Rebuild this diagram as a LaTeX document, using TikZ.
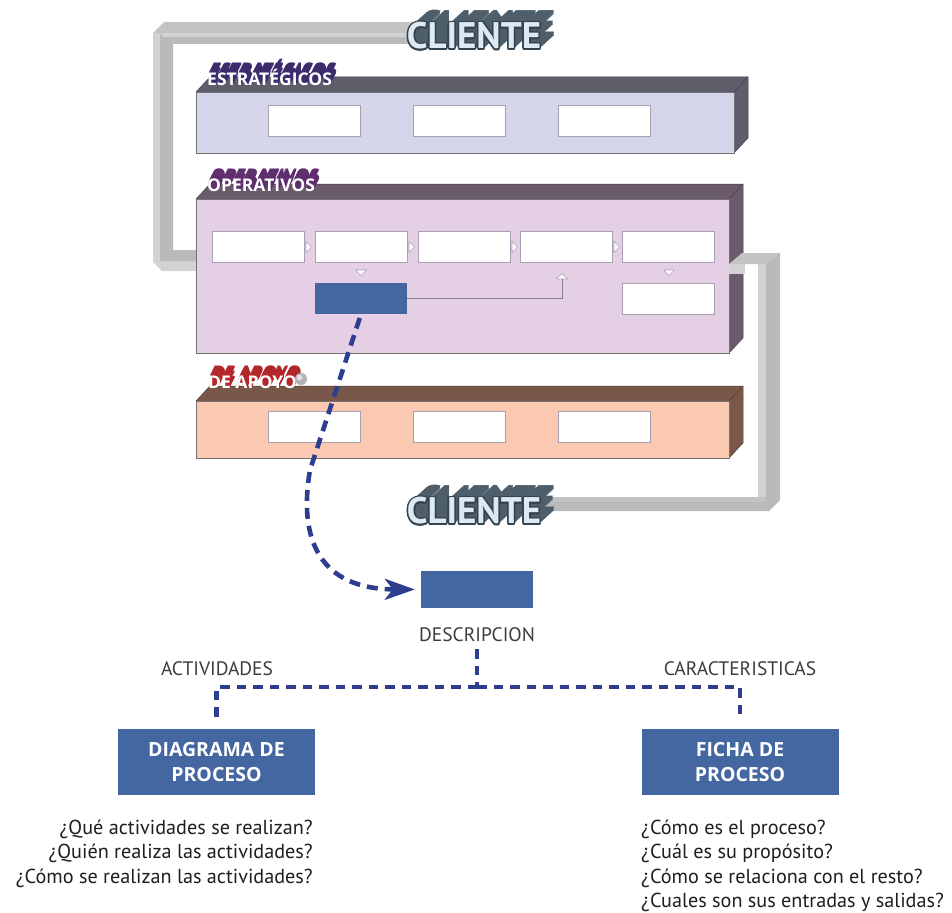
\documentclass[tikz,border=0pt]{standalone}
\usepackage{fontspec}
\setmainfont{PT Sans}
\newfontfamily\widesans{Open Sans}
\usetikzlibrary{arrows.meta,calc}

\definecolor{estfront}{HTML}{D5D6EA}
\definecolor{estdark}{HTML}{5D5E6A}
\definecolor{opfront}{HTML}{E5CFE4}
\definecolor{opdark}{HTML}{6A5A6B}
\definecolor{apfront}{HTML}{FBC9B2}
\definecolor{apdark}{HTML}{7A5849}
\definecolor{procblue}{HTML}{4467A2}
\definecolor{dashblue}{HTML}{2D3E8E}
\definecolor{clshadow}{HTML}{4E5F6B}
\definecolor{cloutline}{HTML}{34434E}
\definecolor{clfront}{HTML}{DCEBF3}
\definecolor{estshadow}{HTML}{3B2C6E}
\definecolor{opshadow}{HTML}{5E2E6E}
\definecolor{apshadow}{HTML}{B3272B}
\definecolor{pipetop}{HTML}{C3C3C3}
\definecolor{pipelight}{HTML}{D2D2D2}
\definecolor{pipebody}{HTML}{BABABA}
\definecolor{boxedge}{HTML}{A89FB2}
\definecolor{qtext}{HTML}{1E1E1E}
\definecolor{captext}{HTML}{3C3C3C}

% one 3-D slab: left, top, right, bottom, front colour, side colour
\newcommand\slab[6]{%
  \fill[#6] (#1,#2) -- (#1+14,#2-15) -- (#3+14,#2-15) -- (#3+14,#4-15) -- (#3,#4) -- (#3,#2) -- cycle;
  \draw[#6!70!black, line width=0.5pt] (#1,#2) -- (#1+14,#2-15) -- (#3+14,#2-15) -- (#3+14,#4-15) -- (#3,#4);
  \draw[#6!70!black, line width=0.5pt] (#3,#2) -- (#3+14,#2-15);
  \fill[#5] (#1,#2) rectangle (#3,#4);
  \draw[black!55, line width=0.7pt] (#1,#2) rectangle (#3,#4);
}

\tikzset{
  wbox/.style={draw=boxedge, fill=white, line width=0.7pt, minimum width=92pt, minimum height=31pt, inner sep=0pt},
  bbox/.style={fill=procblue, draw=none, minimum width=92pt, minimum height=31pt, inner sep=0pt},
  bigbox/.style={fill=procblue, draw=none, minimum width=197pt, minimum height=66pt, inner sep=0pt,
    text=white, align=center, font=\widesans\fontsize{19.5}{25.5}\selectfont\bfseries},
  tri/.style={draw=boxedge, fill=white, line width=0.6pt, line join=round},
  flowline/.style={draw=boxedge!80!black, line width=0.8pt},
  dasharrow/.style={draw=dashblue, line width=4.6pt, dash pattern=on 11pt off 7pt,
    -{Stealth[length=30pt, width=21pt, inset=8pt]}},
  dashtree/.style={draw=dashblue, line width=4.6pt, dash pattern=on 9.5pt off 7pt},
  clfont/.style={font=\fontsize{37}{37}\selectfont\bfseries, inner sep=0pt},
  lblfont/.style={font=\widesans\fontsize{17.5}{17.5}\selectfont\bfseries, inner sep=0pt, anchor=west},
  qfont/.style={font=\fontsize{20.2}{24}\selectfont, text=qtext, inner sep=0pt},
  capfont/.style={font=\fontsize{19.5}{19.5}\selectfont, text=captext, inner sep=0pt},
}

\begin{document}
\begin{tikzpicture}[x=1pt,y=-1pt]
\useasboundingbox (0,0) rectangle (952,912);
\fill[white] (0,0) rectangle (952,912);

% ---- gray pipe from the upper client down into the operative slab
\fill[pipetop] (425,22) -- (164,22) -- (153,33) -- (425,33) -- cycle;
\fill[pipelight] (153,33) -- (160,33) -- (160,261) -- (200,261) -- (200,271) -- (162,271) -- (153,262) -- cycle;
\fill[pipebody] (425,33) -- (160,33) -- (160,261) -- (200,261) -- (200,250) -- (173,250) -- (173,44) -- (425,44) -- cycle;
\fill[pipelight] (160,33) -- (425,33) -- (425,37) -- (164,37) -- cycle;

% ---- slabs
\slab{196}{92}{734}{153}{estfront}{estdark}
\slab{196}{199}{729}{353}{opfront}{opdark}
\slab{196}{401}{729}{458}{apfront}{apdark}

% ---- gray pipe leaving the operative slab towards the lower client
\fill[pipebody] (765,264) -- (780,253) -- (780,500) -- (769,511) -- (545,511) -- (545,497) -- (765,497) -- cycle;
\fill[pipelight] (758,264) rectangle (766,497);
\fill[pipetop] (729,264) -- (742,253) -- (780,253) -- (766,264) -- cycle;
\fill[pipelight] (729,264) rectangle (745,274);
\fill[pipetop] (545,497) rectangle (766,502);

% ---- strategic processes
\node[wbox] (e1) at (314,120.5) {};
\node[wbox] (e2) at (459,120.5) {};
\node[wbox] (e3) at (604,120.5) {};

% ---- operative processes
\node[wbox] (o1) at (258,247) {};
\node[wbox] (o2) at (361,247) {};
\node[wbox] (o3) at (464,247) {};
\node[wbox] (o4) at (566,247) {};
\node[wbox] (o5) at (668.5,247) {};
\node[bbox] (opblue) at (361,298.5) {};
\node[wbox] (o6) at (668.5,298.5) {};

% right-pointing chevrons between the operative boxes
\foreach \cx in {306,409,512,614}
  \draw[tri] (\cx,241.5) -- (\cx+5.5,247) -- (\cx,252.5) -- cycle;
% down and up markers below the row
\draw[tri] (355.5,270) -- (366.5,270) -- (361,275.5) -- cycle;
\draw[tri] (663.5,270) -- (674.5,270) -- (669,275.5) -- cycle;
\coordinate (uptip) at (562,279);
\draw[tri] (556.5,279) -- (567.5,279) -- (562,273.5) -- cycle;
\draw[flowline] (opblue.east) -| (uptip);

% ---- support processes
\node[wbox] (a1) at (314,426.5) {};
\node[wbox] (a2) at (459,426.5) {};
\node[wbox] (a3) at (604,426.5) {};

% ---- slab titles with extruded shadows
\foreach \k in {1,...,10}
  \node[lblfont, text=estshadow] (es\k) at ($(207,77)+(\k*0.5,-\k*0.95)$) {ESTRATÉGICOS};
\node[lblfont, text=white] (esttitle) at (207,77) {ESTRATÉGICOS};
\foreach \k in {1,...,10}
  \node[lblfont, text=opshadow] (os\k) at ($(207,185)+(\k*0.5,-\k*0.95)$) {OPERATIVOS};
\node[lblfont, text=white] (optitle) at (207,185) {OPERATIVOS};
\foreach \k in {1,...,10}
  \node[lblfont, text=apshadow] (as\k) at ($(208,382)+(\k*0.5,-\k*0.95)$) {DE APOYO};
\node[lblfont, text=white] (aptitle) at (208,382) {DE APOYO};
\fill[gray!60] (aptitle.east) ++(4,-3) circle (6);
\fill[gray!25] (aptitle.east) ++(2.5,-4.5) circle (3);

% ---- CLIENTE, above and below
\foreach \k in {13,12,...,1}
  \node[clfont, text=clshadow] (cta\k) at ($(474,36)+(\k*1.1,-\k*0.95)$) {CLIENTE};
\foreach \a in {0,30,...,330}
  \node[clfont, text=cloutline] (ctb\a) at ($(474,36)+(\a:1.6)$) {CLIENTE};
\node[clfont, text=clfront] (clienteA) at (474,36) {CLIENTE};

\foreach \k in {13,12,...,1}
  \node[clfont, text=clshadow] (cba\k) at ($(474,511)+(\k*1.1,-\k*0.95)$) {CLIENTE};
\foreach \a in {0,30,...,330}
  \node[clfont, text=cloutline] (cbb\a) at ($(474,511)+(\a:1.6)$) {CLIENTE};
\node[clfont, text=clfront] (clienteB) at (474,511) {CLIENTE};

% ---- description and its two documents
\node[bbox, minimum width=112pt, minimum height=37pt] (desc) at (477,589.5) {};
\node[capfont, anchor=base] (desclbl) at (477,641) {DESCRIPCION};
\coordinate (bend) at (310,470);
\draw[dasharrow, shorten <=4pt, shorten >=6pt] (opblue.south) -- (bend)
  .. controls (298,540) and (320,589) .. (desc.west);

\node[bigbox] (diag) at (216.5,762) {DIAGRAMA DE\\PROCESO};
\node[bigbox] (ficha) at (740,762) {FICHA DE\\PROCESO};

\coordinate (hub) at (477,687);
\draw[dashtree, shorten <=8pt] (desclbl.south) -- (hub);
\draw[dashtree, shorten >=11pt] (hub) -| (diag.north);
\draw[dashtree, shorten >=11pt] (hub) -| (ficha.north);

\node[capfont, anchor=base] (actlbl) at (217,675) {ACTIVIDADES};
\node[capfont, anchor=base] (carlbl) at (740,675) {CARACTERISTICAS};

% ---- guiding questions
\node[qfont, anchor=base east] (q1) at (313,834) {¿Qué actividades se realizan?};
\node[qfont, anchor=base east] (q2) at (313,858.5) {¿Quién realiza las actividades?};
\node[qfont, anchor=base east] (q3) at (313,883) {¿Cómo se realizan las actividades?};
\node[qfont, anchor=base west] (q4) at (641,834) {¿Cómo es el proceso?};
\node[qfont, anchor=base west] (q5) at (641,858.5) {¿Cuál es su propósito?};
\node[qfont, anchor=base west] (q6) at (641,883) {¿Cómo se relaciona con el resto?};
\node[qfont, anchor=base west] (q7) at (641,907) {¿Cuales son sus entradas y salidas?};
\end{tikzpicture}
\end{document}
